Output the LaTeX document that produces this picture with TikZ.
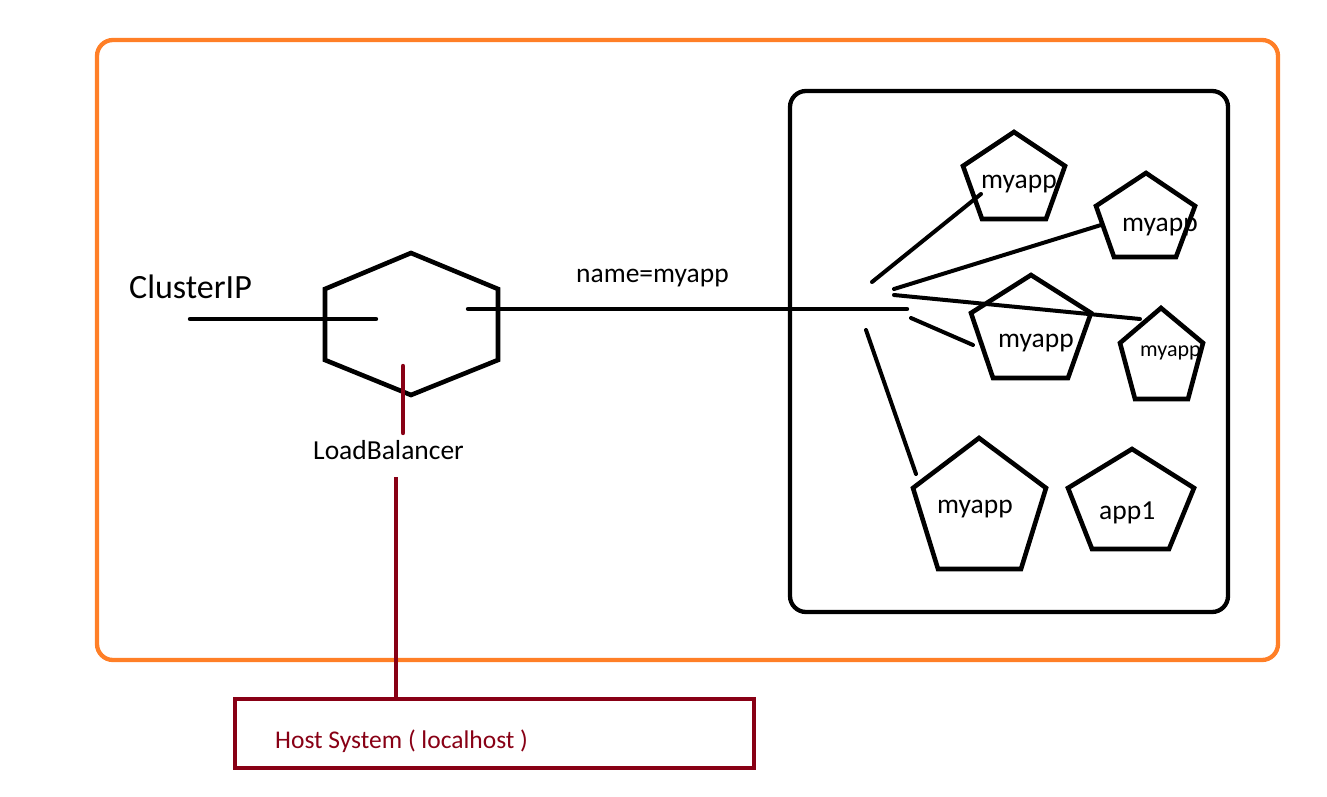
\documentclass[tikz,border=0pt]{standalone}
\usepackage{fontspec}
\setmainfont{Carlito}
\definecolor{orangec}{HTML}{FF7F27}
\definecolor{darkred}{HTML}{880015}
\begin{document}
\begin{tikzpicture}[x=1pt,y=-1pt,
  frame/.style={line width=4.3pt, rounded corners=16pt},
  shapeline/.style={draw=black, line width=4.6pt, line join=miter},
  conn/.style={draw=black, line width=4.4pt, line cap=round},
  fan/.style={draw=black, line width=4pt, line cap=round},
  redline/.style={draw=darkred, line width=4.4pt},
  lbl/.style={anchor=base west, inner sep=0pt, font=\fontsize{27.5}{32}\selectfont},
  biglbl/.style={anchor=base west, inner sep=0pt, font=\fontsize{34}{40}\selectfont},
  smalllbl/.style={anchor=base west, inner sep=0pt, font=\fontsize{22}{26}\selectfont},
  hostlbl/.style={anchor=base west, inner sep=0pt, text=darkred, font=\fontsize{25.5}{30}\selectfont}]
\useasboundingbox (0,0) rectangle (1327,797);
% outer orange frame
\draw[frame, draw=orangec] (97,40) rectangle (1278,660);
% cluster box
\draw[frame, draw=black] (790,91) rectangle (1228,612);
% hexagon (load balancer)
\draw[shapeline] (411,253) -- (498,289) -- (498,360) -- (411,395) -- (325,360) -- (325,289) -- cycle;
% pentagons
\draw[shapeline] (1014,132) -- (1065,166) -- (1046,219) -- (982,219) -- (963,166) -- cycle;
\draw[shapeline] (1146,173) -- (1195,206) -- (1176,257) -- (1114,257) -- (1096,206) -- cycle;
\draw[shapeline] (1031,275) -- (1091,313) -- (1068,378) -- (993,378) -- (971,313) -- cycle;
\draw[shapeline] (1161,308) -- (1203,343) -- (1188,399) -- (1135,399) -- (1120,343) -- cycle;
\draw[shapeline] (979,438) -- (1046,488) -- (1021,569) -- (938,569) -- (913,488) -- cycle;
\draw[shapeline] (1132,449) -- (1194,488) -- (1169,549) -- (1092,549) -- (1068,488) -- cycle;
% host box
\node[draw=darkred, line width=4.3pt, minimum width=519pt, minimum height=69pt, inner sep=0pt, anchor=north west] (host) at (233,697) {};
% labels
\node[biglbl] (cip) at (129,298) {ClusterIP};
\node[lbl] (lb) at (313,459) {LoadBalancer};
\node[lbl] (sel) at (576,282) {name=myapp};
\node[lbl] (p1) at (981,188) {myapp};
\node[lbl] (p2) at (1122,231) {myapp};
\node[lbl] (p3) at (998,347) {myapp};
\node[smalllbl] (p4) at (1140,356) {myapp};
\node[lbl] (p5) at (937,513) {myapp};
\node[lbl] (p6) at (1099,519) {app1};
\node[hostlbl] (hosttxt) at (275,748) {Host System ( localhost )};
% connector endpoints
\coordinate (cipA) at (190,319);
\coordinate (cipB) at (376,319);
\coordinate (mainA) at (468,309);
\coordinate (mainB) at (907,309);
\coordinate (f1a) at (872,282); \coordinate (f1b) at (981,194);
\coordinate (f2a) at (894,289); \coordinate (f2b) at (1101,225);
\coordinate (f3a) at (894,295); \coordinate (f3b) at (1140,319);
\coordinate (f4a) at (911,318); \coordinate (f4b) at (973,345);
\coordinate (f5a) at (866,330); \coordinate (f5b) at (916,474);
\coordinate (lbA) at (403,366); \coordinate (lbB) at (403,433);
\coordinate (hostA) at (396,477);
% connectors
\draw[conn] (cipA) -- (cipB);
\draw[conn] (mainA) -- (mainB);
\draw[fan] (f1a) -- (f1b);
\draw[fan] (f2a) -- (f2b);
\draw[fan] (f3a) -- (f3b);
\draw[fan] (f4a) -- (f4b);
\draw[fan] (f5a) -- (f5b);
\draw[redline, line cap=round] (lbA) -- (lbB);
\draw[redline] (hostA) -- (hostA |- host.north);
\end{tikzpicture}
\end{document}
